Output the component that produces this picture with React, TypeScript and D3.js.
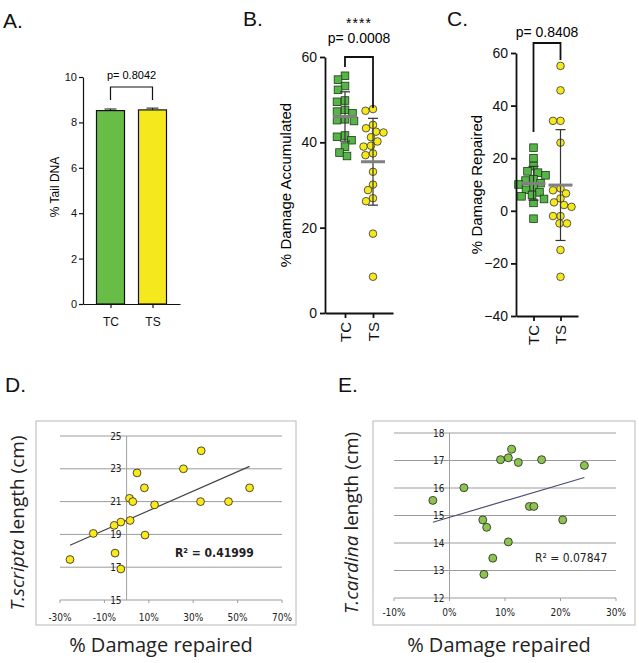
import * as d3 from 'd3';
import { useEffect, useRef } from 'react';

const groups = ['TC', 'TS'];

// A. % tail DNA (bar + SEM)
const tailMeans = [8.52, 8.55];
const tailErr = [0.07, 0.08];
const tailTicks = [0, 2, 4, 6, 8, 10];

// B. % damage accumulated
const accumTC = [55.6, 54.7, 53.2, 52.3, 49.8, 49.5, 47.6, 47.2, 46.8, 45.4, 45.2, 45.0, 41.6, 41.3, 40.5, 39.0, 37.6, 36.8];
const accumTS = [47.4, 47.8, 43.3, 44.1, 42.3, 42.5, 41.2, 40.2, 39.0, 39.2, 37.4, 37.0, 33.1, 30.1, 28.8, 26.9, 26.2, 18.6, 8.5];
const accumTicks = [0, 20, 40, 60];

// C. % damage repaired
const repairTC = [24, 20, 17, 15, 14.5, 13.5, 12, 11.5, 10.5, 10, 9, 8, 7, 6, 5.5, 4.5, 3, -3];
const repairTS = [55.1, 45.8, 34.2, 34.2, 25.9, 8.5, 7.8, 6.6, 4.7, 3.2, 2.2, 1.5, -2, -2, -4.8, -4.8, -14.9, -25.1];
const repairTicks = [-40, -20, 0, 20, 40, 60];

// D. T. scripta: % repaired vs length
const scriptaRepair = [33.6, 25.6, 4.7, 8.0, 55.4, 1.3, 2.8, 12.6, 33.3, 45.9, 1.6, -2.6, -5.6, -15.0, 8.3, -5.2, -25.5, -2.6];
const scriptaLength = [24.1, 23.0, 22.75, 21.84, 21.84, 21.2, 21.0, 20.8, 21.0, 21.0, 19.85, 19.75, 19.55, 19.06, 18.96, 17.86, 17.47, 16.89];
const scriptaXTicks = [-30, -10, 10, 30, 50, 70];
const scriptaYTicks = [15, 17, 19, 21, 23, 25];

// E. T. carolina: % repaired vs length
const carolinaRepair = [-3.0, 2.6, 11.2, 9.2, 10.6, 12.4, 16.6, 24.3, 14.4, 15.2, 20.4, 6.0, 6.7, 10.6, 7.8, 6.2];
const carolinaLength = [15.55, 16.01, 17.41, 17.03, 17.1, 16.93, 17.03, 16.82, 15.33, 15.33, 14.84, 14.84, 14.57, 14.04, 13.45, 12.86];
const carolinaXTicks = [-10, 0, 10, 20, 30];
const carolinaYTicks = [12, 13, 14, 15, 16, 17, 18];

const FONT = 'Liberation Sans, Arial, Helvetica, sans-serif';
const NARROW = '"Liberation Sans Narrow", "Arial Narrow", "DejaVu Sans Condensed", sans-serif';
const TITLE = '"Open Sans", "Noto Sans", sans-serif';
const GREEN = '#56b548';
const YELLOW = '#f5e81c';

type Sel = d3.Selection<any, any, any, any>;

function styleAxis(g: Sel, size: number, width: number) {
  g.selectAll('path, line').attr('stroke', '#111').attr('stroke-width', width);
  g.selectAll('text').style('font-size', `${size}px`).style('font-family', FONT).attr('fill', '#111');
}

// simple beeswarm: place points at the smallest horizontal offset that avoids overlap
function swarm(values: number[], y: (v: number) => number, cx: number, d: number) {
  const placed: { x: number; y: number }[] = [];
  const out: { x: number; y: number }[] = new Array(values.length);
  const order = values.map((_, i) => i).sort((a, b) => values[b] - values[a]);
  for (const i of order) {
    const py = y(values[i]);
    let off = 0;
    for (let k = 0; k < 400; k++) {
      const cand = (k % 2 === 0 ? 1 : -1) * Math.ceil(k / 2) * 0.5;
      if (placed.every((p) => Math.hypot(p.x - cand, p.y - py) >= d)) {
        off = cand;
        break;
      }
    }
    placed.push({ x: off, y: py });
    out[i] = { x: cx + off, y: py };
  }
  return out;
}

function drawA(svg: Sel) {
  const g = svg.append('g');
  const y = d3.scaleLinear().domain([0, 10]).range([304, 77]);
  const x = d3.scalePoint<string>().domain(groups).range([83, 180]).padding(0.655);

  g.selectAll('rect.bar')
    .data(groups)
    .join('rect')
    .attr('x', (d) => x(d)! - 14)
    .attr('width', 28)
    .attr('y', (_, i) => y(tailMeans[i]))
    .attr('height', (_, i) => y(0) - y(tailMeans[i]))
    .attr('fill', (_, i) => (i ? YELLOW : '#67bd45'))
    .attr('stroke', '#111')
    .attr('stroke-width', 1.2);

  // SEM caps
  groups.forEach((d, i) => {
    const cx = x(d)!;
    g.append('line').attr('x1', cx).attr('x2', cx)
      .attr('y1', y(tailMeans[i])).attr('y2', y(tailMeans[i] + tailErr[i])).attr('stroke', '#111');
    g.append('line').attr('x1', cx - 6).attr('x2', cx + 6)
      .attr('y1', y(tailMeans[i] + tailErr[i])).attr('y2', y(tailMeans[i] + tailErr[i])).attr('stroke', '#111');
  });

  const ya = g.append('g').attr('transform', 'translate(83,0)')
    .call(d3.axisLeft(y).tickValues(tailTicks).tickSize(4).tickSizeOuter(0).tickPadding(2));
  styleAxis(ya, 11, 1.2);
  const xa = g.append('g').attr('transform', 'translate(0,304)')
    .call(d3.axisBottom(x).tickSize(4).tickSizeOuter(0).tickPadding(9));
  styleAxis(xa, 12, 1.2);

  // bracket + p value
  const bt = 87;
  g.append('path')
    .attr('d', `M${x('TC')},${bt + 13}V${bt}H${x('TS')}V${bt + 13}`)
    .attr('fill', 'none').attr('stroke', '#111').attr('stroke-width', 1.2);
  g.append('text').attr('x', (x('TC')! + x('TS')!) / 2).attr('y', 79)
    .attr('text-anchor', 'middle').style('font-family', FONT).style('font-size', '11px').text('p= 0.8042');

  g.append('text').attr('transform', 'translate(59,187) rotate(-90)').attr('text-anchor', 'middle')
    .style('font-family', FONT).style('font-size', '12px').text('% Tail DNA');
}

interface DotOpts {
  axisX: number;
  axisEnd: number;
  pad: number;
  yTop: number;
  yBot: number;
  domain: [number, number];
  ticks: number[];
  tc: number[];
  ts: number[];
  title: string;
  titleX: number;
  bracketTop: number;
  legTC: number;
  legTS: number;
  pText: string;
  pY: number;
  stars?: string;
}

function drawDots(svg: Sel, o: DotOpts) {
  const g = svg.append('g');
  const y = d3.scaleLinear().domain(o.domain).range([o.yBot, o.yTop]);
  const x = d3.scalePoint<string>().domain(groups).range([o.axisX, o.axisEnd]).padding(o.pad);

  const sq = 7.6;
  const tcPts = swarm(o.tc, y, x('TC')!, 7.8);
  g.selectAll('rect.pt').data(tcPts).join('rect')
    .attr('x', (d) => d.x - sq / 2).attr('y', (d) => d.y - sq / 2)
    .attr('width', sq).attr('height', sq)
    .attr('fill', GREEN).attr('stroke', '#1e3a14').attr('stroke-width', 0.8);

  const tsPts = swarm(o.ts, y, x('TS')!, 7.4);
  g.selectAll('circle.pt').data(tsPts).join('circle')
    .attr('cx', (d) => d.x).attr('cy', (d) => d.y).attr('r', 3.8)
    .attr('fill', YELLOW).attr('stroke', '#333').attr('stroke-width', 0.8);

  // mean and SD
  [o.tc, o.ts].forEach((vals, i) => {
    const cx = x(groups[i])!;
    const m = d3.mean(vals)!;
    const sd = d3.deviation(vals)!;
    g.append('line').attr('x1', cx).attr('x2', cx).attr('y1', y(m - sd)).attr('y2', y(m + sd))
      .attr('stroke', '#333').attr('stroke-width', 1.2);
    [m - sd, m + sd].forEach((v) => {
      g.append('line').attr('x1', cx - 5).attr('x2', cx + 5).attr('y1', y(v)).attr('y2', y(v))
        .attr('stroke', '#333').attr('stroke-width', 1.2);
    });
    g.append('line').attr('x1', cx - 12).attr('x2', cx + 12).attr('y1', y(m)).attr('y2', y(m))
      .attr('stroke', '#808080').attr('stroke-width', 3);
  });

  const ya = g.append('g').attr('transform', `translate(${o.axisX},0)`)
    .call(d3.axisLeft(y).tickValues(o.ticks).tickSize(5).tickSizeOuter(0).tickPadding(3));
  styleAxis(ya, 14, 1.8);
  const xa = g.append('g').attr('transform', `translate(0,${o.yBot})`)
    .call(d3.axisBottom(x).tickSize(5).tickSizeOuter(0));
  styleAxis(xa, 15, 1.8);
  xa.selectAll('text').attr('transform', 'rotate(-90)').attr('x', -9).attr('y', 0)
    .attr('dy', '0.35em').style('text-anchor', 'end');

  const x1 = x('TC')!;
  const x2 = x('TS')!;
  g.append('path')
    .attr('d', `M${x1},${o.legTC}V${o.bracketTop}H${x2}V${o.legTS}`)
    .attr('fill', 'none').attr('stroke', '#111').attr('stroke-width', 1.8);
  g.append('text').attr('x', (x1 + x2) / 2).attr('y', o.pY).attr('text-anchor', 'middle')
    .style('font-family', FONT).style('font-size', '14px').text(o.pText);
  if (o.stars) {
    g.append('text').attr('x', (x1 + x2) / 2).attr('y', o.pY - 15).attr('text-anchor', 'middle')
      .style('font-family', FONT).style('font-size', '14px').style('letter-spacing', '1px').text(o.stars);
  }

  g.append('text').attr('transform', `translate(${o.titleX},${(o.yTop + o.yBot) / 2}) rotate(-90)`)
    .attr('text-anchor', 'middle').style('font-family', FONT).style('font-size', '15px').text(o.title);
}

interface ScatterOpts {
  frame: [number, number, number, number];
  xDomain: [number, number];
  xRange: [number, number];
  yDomain: [number, number];
  yRange: [number, number];
  xTicks: number[];
  yTicks: number[];
  xs: number[];
  ys: number[];
  fill: string;
  r: number;
  lineColor: string;
  r2: string;
  r2At: [number, number];
  r2Bold: boolean;
  species: string;
  titleX: number;
  xLabelGap: number;
}

function drawScatter(svg: Sel, o: ScatterOpts) {
  const g = svg.append('g');
  const x = d3.scaleLinear().domain(o.xDomain).range(o.xRange);
  const y = d3.scaleLinear().domain(o.yDomain).range(o.yRange);
  const [fx, fy, fw, fh] = o.frame;

  g.append('rect').attr('x', fx).attr('y', fy).attr('width', fw).attr('height', fh)
    .attr('fill', 'none').attr('stroke', '#b8b8b8').attr('stroke-width', 1);

  g.selectAll('line.grid').data(o.yTicks).join('line')
    .attr('x1', o.xRange[0]).attr('x2', o.xRange[1])
    .attr('y1', (d) => y(d)).attr('y2', (d) => y(d))
    .attr('stroke', '#9c9c9c').attr('stroke-width', 1);
  g.append('line').attr('x1', x(0)).attr('x2', x(0)).attr('y1', o.yRange[1]).attr('y2', o.yRange[0])
    .attr('stroke', '#a0a0a0').attr('stroke-width', 1);
  g.selectAll('line.xt').data(o.xTicks).join('line')
    .attr('x1', (d) => x(d)).attr('x2', (d) => x(d))
    .attr('y1', o.yRange[0]).attr('y2', o.yRange[0] + 3)
    .attr('stroke', '#9c9c9c');

  g.selectAll('text.yl').data(o.yTicks).join('text')
    .attr('x', x(0) - 5).attr('y', (d) => y(d)).attr('dy', '0.35em').attr('text-anchor', 'end')
    .style('font-family', NARROW).style('font-size', '10px').attr('fill', '#222').text((d) => d);
  g.selectAll('text.xl').data(o.xTicks).join('text')
    .attr('x', (d) => x(d)).attr('y', o.yRange[0] + o.xLabelGap).attr('dy', '0.35em').attr('text-anchor', 'middle')
    .style('font-family', NARROW).style('font-size', '10px').attr('fill', '#222').text((d) => `${d}%`);

  // least-squares trend line over the data range
  const mx = d3.mean(o.xs)!;
  const my = d3.mean(o.ys)!;
  const slope = d3.sum(o.xs, (v, i) => (v - mx) * (o.ys[i] - my)) / d3.sum(o.xs, (v) => (v - mx) ** 2);
  const [lo, hi] = d3.extent(o.xs) as [number, number];
  g.append('line')
    .attr('x1', x(lo)).attr('y1', y(my + slope * (lo - mx)))
    .attr('x2', x(hi)).attr('y2', y(my + slope * (hi - mx)))
    .attr('stroke', o.lineColor).attr('stroke-width', 1.2);

  g.selectAll('circle.pt').data(o.xs).join('circle')
    .attr('cx', (d) => x(d)).attr('cy', (_, i) => y(o.ys[i])).attr('r', o.r)
    .attr('fill', o.fill).attr('stroke', '#222').attr('stroke-width', 0.8);

  g.append('text').attr('x', x(o.r2At[0])).attr('y', y(o.r2At[1])).attr('dy', '0.35em')
    .style('font-family', NARROW).style('font-size', '12px')
    .style('font-weight', o.r2Bold ? 'bold' : 'normal').attr('fill', '#222').text(o.r2);

  const t = g.append('text')
    .attr('transform', `translate(${o.titleX},${(fy + fy + fh) / 2 + 0}) rotate(-90)`)
    .attr('text-anchor', 'middle').style('font-family', TITLE).style('font-size', '19px').attr('fill', '#222');
  t.append('tspan').style('font-style', 'italic').text(o.species);
  t.append('tspan').text(' length (cm)');

  g.append('text').attr('x', (fx + fx + fw) / 2 - 5).attr('y', 652).attr('text-anchor', 'middle')
    .style('font-family', TITLE).style('font-size', '20px').attr('fill', '#222').text('% Damage repaired');
}

export default function App() {
  const ref = useRef<SVGSVGElement | null>(null);

  useEffect(() => {
    if (!ref.current) return;
    const svg = d3.select(ref.current);
    svg.selectAll('*').remove();

    const labels: [string, number, number][] = [
      ['A.', 3, 28], ['B.', 243, 26], ['C.', 447, 26], ['D.', 5, 392], ['E.', 338, 392],
    ];
    svg.selectAll('text.panel').data(labels).join('text')
      .attr('x', (d) => d[1]).attr('y', (d) => d[2])
      .style('font-family', FONT).style('font-size', '21px').attr('fill', '#111').text((d) => d[0]);

    drawA(svg);
    drawDots(svg, {
      axisX: 325, axisEnd: 393, pad: 0.714, yTop: 57, yBot: 313, domain: [0, 60], ticks: accumTicks,
      tc: accumTC, ts: accumTS, title: '% Damage Accumulated', titleX: 291,
      bracketTop: 57, legTC: 67, legTS: 108, pText: 'p= 0.0008', pY: 43, stars: '****',
    });
    drawDots(svg, {
      axisX: 516, axisEnd: 578, pad: 0.648, yTop: 53, yBot: 316, domain: [-40, 60], ticks: repairTicks,
      tc: repairTC, ts: repairTS, title: '% Damage Repaired', titleX: 482,
      bracketTop: 43, legTC: 132, legTS: 60, pText: 'p= 0.8408', pY: 37,
    });
    drawScatter(svg, {
      frame: [36, 421, 260, 204], xDomain: [-30, 70], xRange: [60, 282], yDomain: [15, 25], yRange: [600, 436],
      xTicks: scriptaXTicks, yTicks: scriptaYTicks, xs: scriptaRepair, ys: scriptaLength,
      fill: '#fbe91a', r: 3.9, lineColor: '#444', r2: 'R² = 0.41999', r2At: [21.8, 17.87], r2Bold: true,
      species: 'T.scripta', titleX: 24, xLabelGap: 17,
    });
    drawScatter(svg, {
      frame: [373, 421, 262, 204], xDomain: [-10, 30], xRange: [394, 616], yDomain: [12, 18], yRange: [598, 433],
      xTicks: carolinaXTicks, yTicks: carolinaYTicks, xs: carolinaRepair, ys: carolinaLength,
      fill: '#8cc44e', r: 4, lineColor: '#4b5070', r2: 'R² = 0.07847', r2At: [15.4, 13.45], r2Bold: false,
      species: 'T.cardina', titleX: 358, xLabelGap: 14,
    });
  }, []);

  return (
    <svg
      ref={ref}
      width={639}
      height={663}
      style={{ position: 'absolute', left: 0, top: 0, background: '#fff' }}
    />
  );
}
